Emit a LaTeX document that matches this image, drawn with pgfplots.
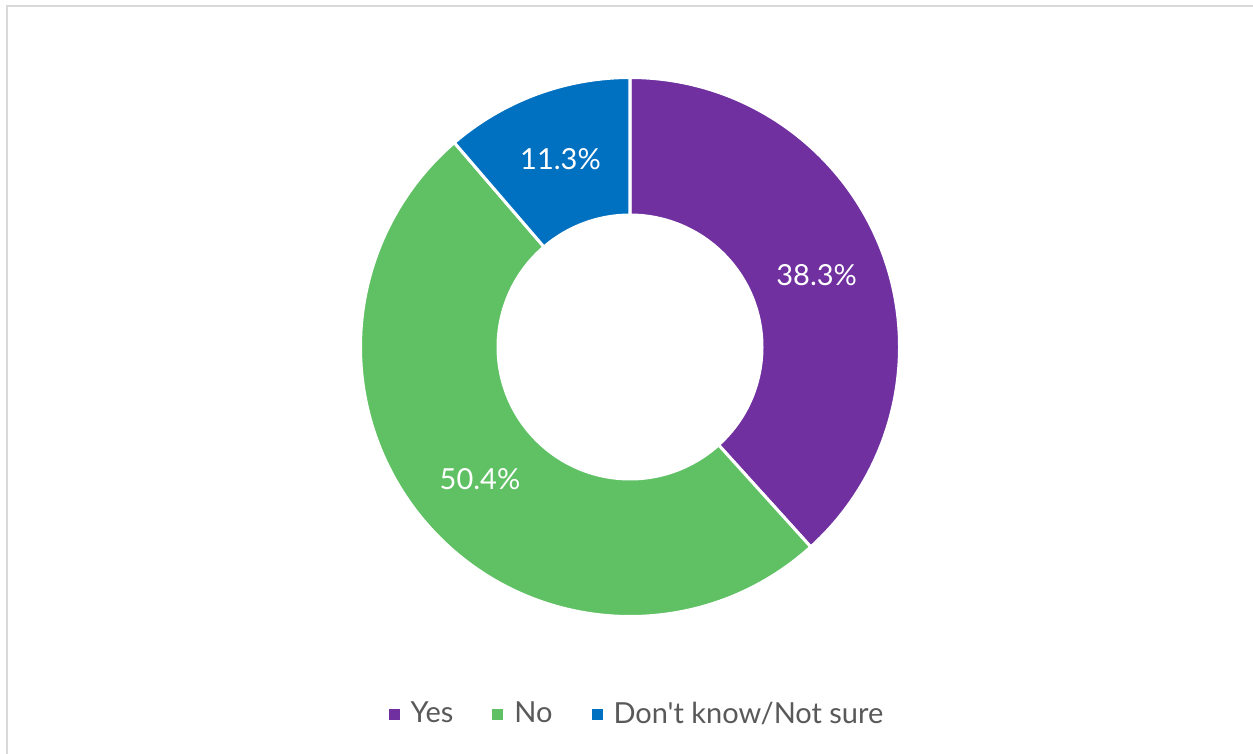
\documentclass[border=0pt]{standalone}
\usepackage{pgfplots}
\pgfplotsset{compat=1.18}
\usepackage{pgfplotstable}
\usepackage{fontspec}
\setmainfont{Lato}[Ligatures=TeXOff]
\definecolor{yescol}{HTML}{7030A0}
\definecolor{nocol}{HTML}{5FC163}
\definecolor{dkcol}{HTML}{0070C0}
\definecolor{legtext}{HTML}{595959}
\definecolor{framecol}{HTML}{D9D9D9}

\pgfplotstableread{
label value
Yes 38.3
No 50.4
DK 11.3
}\donutdata

\pgfplotstablegetelem{0}{value}\of\donutdata \let\vA\pgfplotsretval
\pgfplotstablegetelem{1}{value}\of\donutdata \let\vB\pgfplotsretval
\pgfplotstablegetelem{2}{value}\of\donutdata \let\vC\pgfplotsretval
\pgfmathsetmacro\tot{\vA+\vB+\vC}
\pgfmathsetmacro\aZero{90}
\pgfmathsetmacro\aOne{90-\vA/\tot*360}
\pgfmathsetmacro\aTwo{\aOne-\vB/\tot*360}
\pgfmathsetmacro\aThree{\aTwo-\vC/\tot*360}
\pgfmathsetmacro\mA{(\aZero+\aOne)/2}
\pgfmathsetmacro\mB{(\aOne+\aTwo)/2}
\pgfmathsetmacro\mC{(\aTwo+\aThree)/2}

\newcommand\slice[3]{% start, end, colour
  \fill[#3, draw=white, line width=1.5pt]
    ([shift={(#1:134.75pt)}]axis cs:630,347)
    arc[start angle=#1, end angle=#2, radius=134.75pt]
    -- ([shift={(#2:66pt)}]axis cs:630,347)
    arc[start angle=#2, end angle=#1, radius=66pt] -- cycle;}
\newcommand\pct[1]{\pgfmathprintnumber[fixed,precision=1,fixed zerofill,assume math mode=true]{#1}\%}

\begin{document}
\begin{tikzpicture}
\begin{axis}[
  x=0.5pt, y=0.5pt,
  xmin=0, xmax=1253, ymin=0, ymax=754,
  y dir=reverse,
  hide axis, clip=false,
  legend columns=3,
  legend style={at={(axis cs:638,714)}, anchor=center, draw=none, fill=none,
    font=\fontsize{14.5}{17}\selectfont\color{legtext},
    /tikz/every odd column/.append style={column sep=3.5pt},
    /tikz/every even column/.append style={column sep=17.5pt}},
  legend image code/.code={\fill[#1] (0pt,-2.75pt) rectangle (5.5pt,2.75pt);},
]
\slice{\aZero}{\aOne}{yescol}
\slice{\aOne}{\aTwo}{nocol}
\slice{\aTwo}{\aThree}{dkcol}
\node[text=white, font=\fontsize{14.5}{17}\selectfont] at ([shift={(\mA:100pt)}]axis cs:630,347) {\pct{\vA}};
\node[text=white, font=\fontsize{14.5}{17}\selectfont] at ([shift={(\mB:100pt)}]axis cs:630,347) {\pct{\vB}};
\node[text=white, font=\fontsize{14.5}{17}\selectfont] at ([shift={(\mC:100pt)}]axis cs:630,347) {\pct{\vC}};
\addlegendimage{fill=yescol, draw=none}
\addlegendentry{Yes}
\addlegendimage{fill=nocol, draw=none}
\addlegendentry{No}
\addlegendimage{fill=dkcol, draw=none}
\addlegendentry{Don't know/Not sure}
\draw[framecol, line width=0.75pt] (axis cs:7,1000) -- (axis cs:7,6) -- (axis cs:1300,6);
\end{axis}
\pgfresetboundingbox
\useasboundingbox (0,0) rectangle (626.5pt,377pt);
\end{tikzpicture}
\end{document}
